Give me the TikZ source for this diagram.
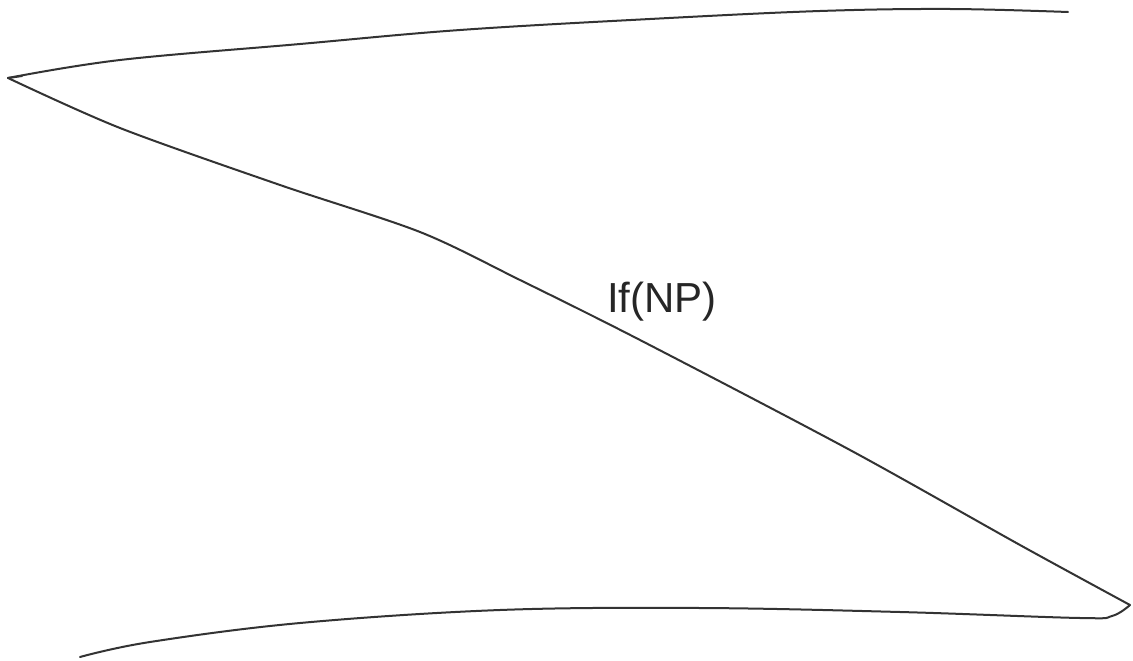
\documentclass[tikz,border=0pt]{standalone}
\usepackage{fontspec}
\setmainfont{Liberation Sans}
\begin{document}
\begin{tikzpicture}[x=1pt,y=-1pt,
  stroke/.style={line width=2pt,draw=black!80,line cap=round,line join=round},
  lbl/.style={font=\fontsize{42}{42}\selectfont,text=black!85}]
\useasboundingbox[fill=white] (0,0) rectangle (1133,661);
% top line
\draw[stroke] plot[smooth,tension=0.6] coordinates {(8,78) (120,60) (300,44) (460,30) (650,19) (820,11) (950,9) (1068,12)};
% left tip hook
\draw[stroke] (8,78) -- (22,76);
% diagonal line
\draw[stroke] plot[smooth,tension=0.5] coordinates {(8,78) (120,128) (280,185) (420,232) (520,280) (640,340) (850,450) (1020,545) (1130,605)};
% bottom line
\draw[stroke] plot[smooth,tension=0.6] coordinates {(1130,605) (1112,616) (1080,618) (900,612) (700,608) (500,610) (300,623) (150,642) (80,657)};
\node[lbl] (label) at (662,302) {If(NP)};
\end{tikzpicture}
\end{document}
